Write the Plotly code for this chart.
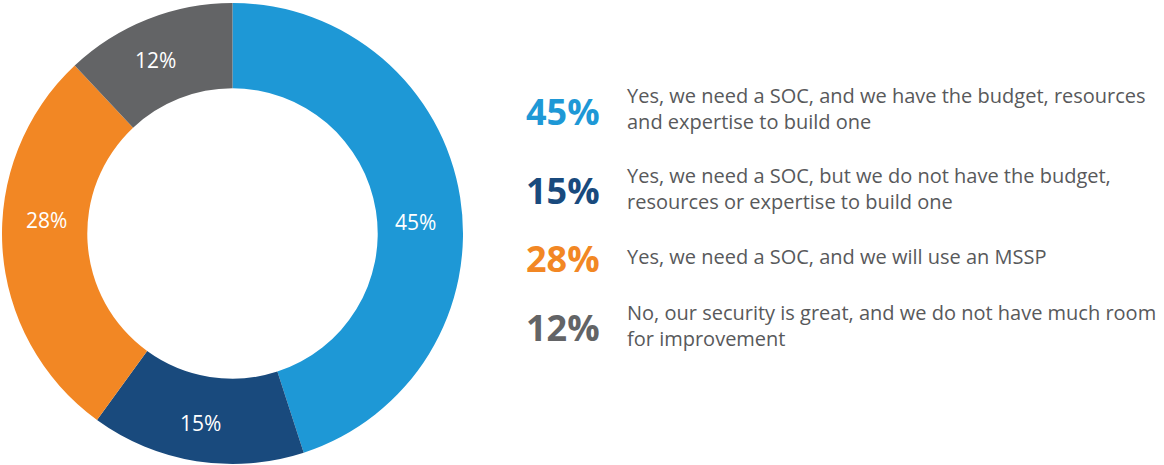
import plotly.graph_objects as go

W, H = 1164, 465

# Survey answers, in clockwise order from 12 o'clock
answers = [
    "Yes, we need a SOC, and we have the budget, resources<br>and expertise to build one",
    "Yes, we need a SOC, but we do not have the budget,<br>resources or expertise to build one",
    "Yes, we need a SOC, and we will use an MSSP",
    "No, our security is great, and we do not have much room<br>for improvement",
]
shares = [45, 15, 28, 12]
colors = ["#1E98D6", "#194A7D", "#F28724", "#636466"]

# where the white value labels sit on the ring (px from left / top)
ring_label_xy = [(415, 222), (200, 423), (46, 220), (155, 60)]
# vertical centre (px from top) of each legend row
row_y = [111, 190, 258, 327]

FONT = "Open Sans"

fig = go.Figure(
    go.Pie(
        values=shares,
        labels=[f"{s}%" for s in shares],
        marker=dict(colors=colors, line=dict(width=0)),
        hole=0.63,
        sort=False,
        direction="clockwise",
        rotation=0,
        textinfo="none",
        showlegend=False,
        hoverinfo="skip",
        domain=dict(x=[2 / W, 463 / W], y=[1 - 464 / H, 1 - 3 / H]),
    )
)

annotations = []
for s, (lx, ly) in zip(shares, ring_label_xy):
    annotations.append(
        dict(
            x=lx / W, y=1 - ly / H, xref="paper", yref="paper",
            xanchor="center", yanchor="middle", showarrow=False,
            text=f"{s}%",
            font=dict(family=FONT, size=21, color="white"),
        )
    )

for s, c, txt, y in zip(shares, colors, answers, row_y):
    annotations.append(
        dict(
            x=602 / W, y=1 - y / H, xref="paper", yref="paper",
            xanchor="right", yanchor="middle", showarrow=False,
            text=f"<b>{s}%</b>",
            font=dict(family=FONT, size=36, color=c),
        )
    )
    annotations.append(
        dict(
            x=625 / W, y=1 - (y - 2) / H, xref="paper", yref="paper",
            xanchor="left", yanchor="middle", align="left", showarrow=False,
            text=txt,
            font=dict(family=FONT, size=20, color="#58595B"),
        )
    )

fig.update_layout(
    width=W, height=H,
    margin=dict(l=0, r=0, t=0, b=0),
    paper_bgcolor="white", plot_bgcolor="white",
    annotations=annotations,
)

fig.write_html("out.html")
